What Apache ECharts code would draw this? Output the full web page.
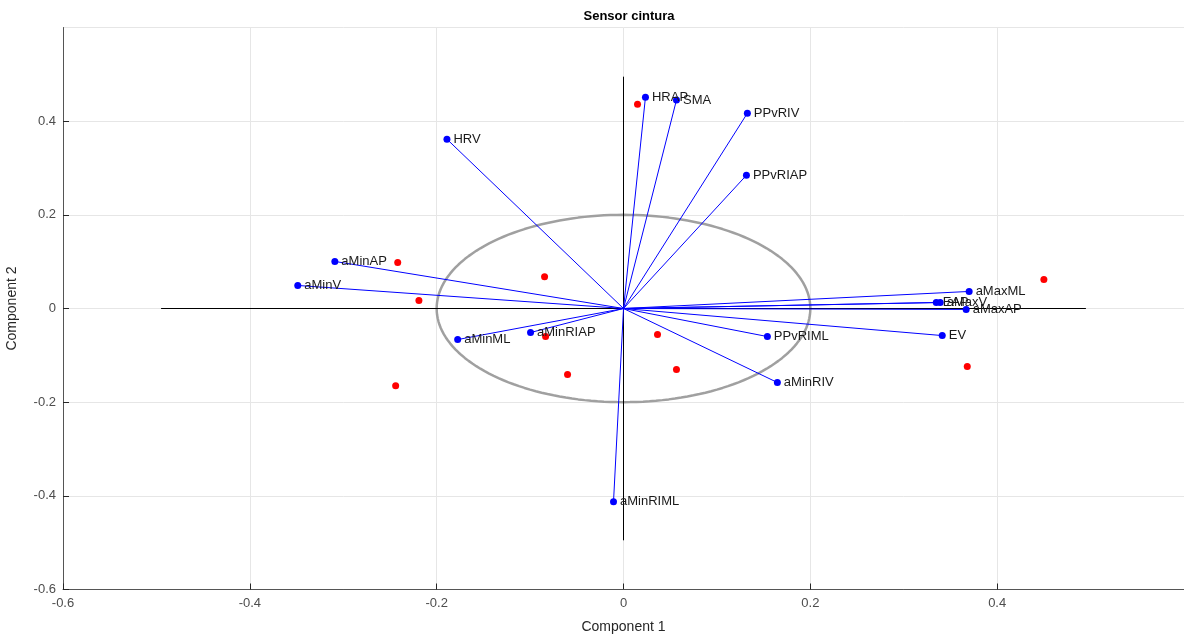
<!DOCTYPE html>
<html>
<head>
<meta charset="utf-8">
<script src="https://cdn.jsdelivr.net/npm/echarts@6/dist/echarts.min.js"></script>
<style>html,body{margin:0;padding:0;background:#fff}#c{width:1184px;height:641px}</style>
</head>
<body>
<div id="c"></div>
<script>
// Loading vectors (variables)
const varNames = ['HRAP','SMA','PPvRIV','PPvRIAP','HRV','aMinAP','aMinV','aMinML','aMinRIAP','aMinRIML','aMinRIV','PPvRIML','EV','aMaxML','aMaxAP','EAP','aMaxV'];
const varX = [0.0235,0.0567,0.1326,0.1316,-0.189,-0.309,-0.3487,-0.1775,-0.0995,-0.0107,0.1647,0.154,0.3412,0.370,0.3668,0.3348,0.339];
const varY = [0.451,0.445,0.417,0.2845,0.3615,0.1005,0.0492,-0.0663,-0.0513,-0.4128,-0.158,-0.0599,-0.0578,0.0364,-0.002,0.0128,0.0128];
// Scores (observations)
const scoreX = [0.015,-0.2417,-0.219,-0.0845,-0.0834,-0.0599,0.0364,0.0567,-0.2439,0.368,0.450];
const scoreY = [0.436,0.098,0.017,0.068,-0.060,-0.141,-0.0556,-0.130,-0.165,-0.124,0.062];
// Reference axes and circle
const axisHalfLen = 0.495;
const circleRadius = 0.2;
const tickValues = [-0.6,-0.4,-0.2,0,0.2,0.4,0.6];

const FONT = 'Liberation Sans, Arial, Helvetica, sans-serif';
const series = [];

// black cross axes
series.push({type:'line', data:[[-axisHalfLen,0],[axisHalfLen,0]], symbol:'none', lineStyle:{color:'#000',width:1}, silent:true, z:2});
series.push({type:'line', data:[[0,-axisHalfLen],[0,axisHalfLen]], symbol:'none', lineStyle:{color:'#000',width:1}, silent:true, z:2});

// circle
const circ = [];
for (let i = 0; i <= 180; i++) {
  const t = i / 180 * 2 * Math.PI;
  circ.push([circleRadius*Math.cos(t), circleRadius*Math.sin(t)]);
}
series.push({type:'line', data:circ, symbol:'none', smooth:false, lineStyle:{color:'#a0a0a0',width:2.5}, silent:true, z:1});

// vectors
for (let i = 0; i < varNames.length; i++) {
  series.push({type:'line', data:[[0,0],[varX[i],varY[i]]], symbol:'none', lineStyle:{color:'#0000ff',width:1}, silent:true, z:3});
}
// vector endpoints
series.push({
  type:'scatter', symbolSize:7, itemStyle:{color:'#0000ff', opacity:1}, z:5,
  data: varNames.map((n,i)=>({value:[varX[i],varY[i]], name:n})),
  label:{show:true, position:'right', distance:3, formatter:p=>p.name, color:'#1a1a1a', fontSize:13, fontFamily:FONT}
});
// scores
series.push({
  type:'scatter', symbolSize:7, itemStyle:{color:'#ff0000', opacity:1}, z:4,
  data: scoreX.map((x,i)=>[x,scoreY[i]])
});

const chart = echarts.init(document.getElementById('c'));
chart.setOption({
  animation:false,
  title:{text:'Sensor cintura', left:624, textAlign:'center', top:5, textStyle:{fontFamily:FONT, fontSize:13, fontWeight:'bold', color:'#000'}},
  grid:{left:63, right:0, top:27.5, bottom:51.5, outerBoundsMode:'none', containLabel:false},
  xAxis:{
    type:'value', min:tickValues[0], max:tickValues[tickValues.length-1], interval:0.2,
    name:'Component 1', nameLocation:'middle', nameGap:31,
    nameTextStyle:{fontFamily:FONT, fontSize:14, color:'#262626'},
    axisLine:{show:true, onZero:false, lineStyle:{color:'#555', width:1}},
    axisTick:{show:true, inside:true, length:6, lineStyle:{color:'#262626'}},
    axisLabel:{fontFamily:FONT, fontSize:13, color:'#4d4d4d', margin:7, showMaxLabel:false,
      formatter:v=>(Math.round(v*10)/10).toString()},
    splitLine:{show:true, lineStyle:{color:'#e6e6e6', width:1}}
  },
  yAxis:{
    type:'value', min:tickValues[0], max:tickValues[tickValues.length-1], interval:0.2,
    name:'Component 2', nameLocation:'middle', nameGap:44,
    nameTextStyle:{fontFamily:FONT, fontSize:14, color:'#262626'},
    axisLine:{show:true, onZero:false, lineStyle:{color:'#555', width:1}},
    axisTick:{show:true, inside:true, length:6, lineStyle:{color:'#262626'}},
    axisLabel:{fontFamily:FONT, fontSize:13, color:'#4d4d4d', margin:7, showMaxLabel:false,
      formatter:v=>(Math.round(v*10)/10).toString()},
    splitLine:{show:true, lineStyle:{color:'#e6e6e6', width:1}}
  },
  series: series
});
</script>
</body>
</html>
